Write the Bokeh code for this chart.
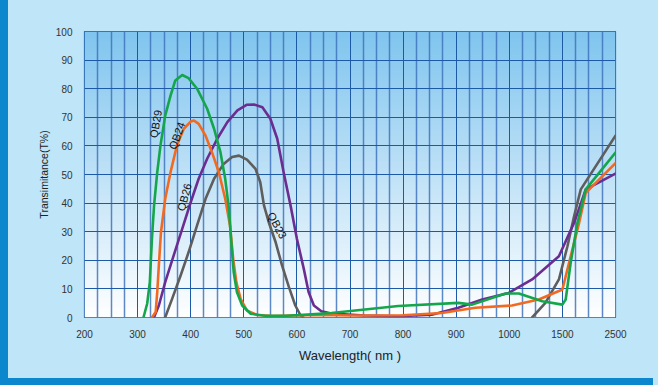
import numpy as np
from bokeh.plotting import figure
from bokeh.models import FixedTicker, GlobalInlineStyleSheet
from bokeh.core.properties import value
from bokeh.embed import file_html
from bokeh.resources import INLINE

# ---- axis ticks (non-linear wavelength axis, equally spaced ticks) ----
tick_wl = [200, 300, 400, 500, 600, 700, 800, 900, 1000, 1500, 2500]
tick_labels = ["200", "300", "400", "500", "600", "700", "800", "900", "1000", "1500", "2500"]
y_ticks = [0, 10, 20, 30, 40, 50, 60, 70, 80, 90, 100]

# ---- series (wavelength nm, transmittance %) ----
qb29_wl = [311, 318, 323, 327, 331, 337, 343, 352, 362, 371, 384, 396, 412, 431, 444, 456, 465,
           472, 476, 481, 487, 497, 513, 540, 580, 620, 665, 791, 904, 930, 993, 1090, 1310,
           1500, 1562, 1656, 1783, 1940, 2500]
qb29_t = [0, 4.8, 12.4, 27.5, 39.2, 50.8, 60.1, 70.6, 77.6, 82.9, 84.8, 83.7, 80, 73, 66, 57.8, 48.5,
          38, 27.5, 15.8, 8.9, 4.2, 1.3, 0.6, 0.6, 1.0, 1.6, 4.0, 5.1, 4.5, 8.4, 8.4, 5.7,
          4.5, 6.3, 19.1, 33.1, 44.8, 57.7]

qb24_wl = [327, 334, 337, 340, 344, 352, 362, 374, 387, 400, 406, 415, 428, 440, 453, 465, 474,
           480, 486, 494, 506, 525, 556, 594, 644, 700, 800, 873, 936, 1025, 1278, 1500, 1656,
           1815, 1940, 2500]
qb24_t = [0, 1.9, 8.9, 18.2, 29.8, 41.5, 50.8, 60.1, 66, 68.5, 68.9, 67.7, 63.6, 57.8, 50.8, 41.5, 32.2,
          20.5, 12.3, 6.5, 2.4, 0.9, 0.5, 0.7, 0.9, 0.7, 0.8, 1.6, 3.4, 4.2, 6.3, 9.8, 21.4,
          33.1, 43.6, 54]

qb26_wl = [331, 340, 352, 368, 384, 400, 415, 431, 450, 469, 488, 506, 519, 535, 550, 563, 575,
           588, 600, 613, 622, 632, 646, 665, 728, 791, 854, 904, 949, 999, 1215, 1467, 1720,
           1940, 2500]
qb26_t = [0.1, 4.2, 12.4, 21.7, 31, 40.3, 48.5, 55.5, 62.5, 68.3, 72.4, 74.4, 74.5, 73.5, 69.5, 62.5, 50.8,
          39.2, 27.5, 17, 8.9, 4.2, 2.2, 1.4, 0.7, 0.45, 1.0, 3.4, 6.3, 8.6, 13.3, 21.4, 33.1,
          44.8, 50.3]

qb23_wl = [352, 365, 381, 396, 412, 428, 444, 462, 478, 491, 506, 522, 531, 538, 547, 560, 572,
           585, 597, 607, 612, np.nan, 1215, 1340, 1467, 1595, 1720, 1846, 2500]
qb23_t = [0.1, 6.5, 14.7, 22.8, 32.2, 41.5, 48.5, 53.7, 56.1, 56.6, 55.2, 52, 47.3, 39.2, 33.3, 26.3, 18.2,
          10.6, 4.2, 0.7, 0, np.nan, 0, 5.1, 13.3, 24.9, 35.4, 44.8, 63.6]

series_names = ["QB23", "QB26", "QB24", "QB29"]
series_colors = ["#5e5e5e", "#6b2d90", "#f26a21", "#14a64b"]

# curve labels (wavelength, transmittance, angle in degrees)
label_names = ["QB29", "QB24", "QB26", "QB23"]
label_wl = [334, 374, 388, 563]
label_t = [67.7, 63.6, 42.1, 32.2]
label_angle = [80, 70, 75, -62]


def to_pos(wl):
    wl = np.asarray(wl, dtype=float)
    out = np.interp(wl, tick_wl, np.arange(len(tick_wl)))
    out[np.isnan(wl)] = np.nan
    return out


n_ticks = len(tick_wl)
p = figure(width=645, height=378, output_backend="svg", toolbar_location=None,
           x_range=(0, n_ticks - 1), y_range=(0, 100),
           min_border_left=76, min_border_right=38, min_border_top=31, min_border_bottom=61,
           border_fill_color="#bee5f8", background_fill_color="#ffffff",
           outline_line_color="#1c5aa8", outline_line_width=1.2)

css = ("html { height:100%; background: linear-gradient(#0a87cd,#0a87cd) 0 0/8px 100% no-repeat,"
       " linear-gradient(#0a87cd,#0a87cd) 0 378px/653px 8px no-repeat, #bee5f8; }"
       " body { margin:0 !important; padding:0 0 0 8px !important; background: transparent; overflow:hidden; }")
p.stylesheets = [GlobalInlineStyleSheet(css=css)]

# gradient background of plot area
N = 200
top = np.array([0x80, 0xc5, 0xef], dtype=float)
bot = np.array([0xff, 0xff, 0xff], dtype=float)
frac = np.linspace(0, 1, N)[:, None]
cols = (bot * (1 - frac) + top * frac).astype(np.uint32)
img = np.empty((N, 1), dtype=np.uint32)
view = img.view(dtype=np.uint8).reshape((N, 1, 4))
view[:, 0, 0] = cols[:, 0]
view[:, 0, 1] = cols[:, 1]
view[:, 0, 2] = cols[:, 2]
view[:, 0, 3] = 255
p.image_rgba(image=[img], x=0, y=0, dw=n_ticks - 1, dh=100, level="image")

# grid
xt = list(range(n_ticks))
minor = [i + q for i in range(n_ticks - 1) for q in (0.25, 0.5, 0.75)]
p.xaxis.ticker = FixedTicker(ticks=xt, minor_ticks=minor)
p.yaxis.ticker = FixedTicker(ticks=y_ticks)
p.xgrid.grid_line_color = "#1c5aa8"
p.xgrid.grid_line_width = 1
p.xgrid.minor_grid_line_color = "#3f73bd"
p.xgrid.minor_grid_line_alpha = 0.85
p.xgrid.minor_grid_line_width = 1.5
p.ygrid.grid_line_color = "#1c5aa8"
p.ygrid.grid_line_width = 1.2

p.xaxis.major_label_overrides = {i: t for i, t in enumerate(tick_labels)}

for ax in (p.xaxis, p.yaxis):
    ax.axis_line_color = None
    ax.major_tick_line_color = None
    ax.minor_tick_line_color = None
    ax.major_label_text_font = "Liberation Sans"
    ax.major_label_text_font_size = "10px"
    ax.major_label_text_color = "#333333"
    ax.axis_label_text_font = "Liberation Sans"
    ax.axis_label_text_font_style = "normal"
    ax.axis_label_text_color = "#222222"

p.xaxis.axis_label = "Wavelength( nm )"
p.xaxis.axis_label_text_font_size = "13px"
p.xaxis.major_label_standoff = 6
p.xaxis.axis_label_standoff = 7
p.yaxis.axis_label = "Transimitance(T%)"
p.yaxis.axis_label_text_font_size = "10.5px"
p.yaxis.major_label_standoff = 6
p.yaxis.axis_label_standoff = 3

data = {"QB23": (qb23_wl, qb23_t), "QB26": (qb26_wl, qb26_t),
        "QB24": (qb24_wl, qb24_t), "QB29": (qb29_wl, qb29_t)}
for name, color in zip(series_names, series_colors):
    wl, t = data[name]
    p.line(to_pos(wl), t, line_color=color, line_width=2.6, line_join="round", line_cap="round")

p.text(x=to_pos(label_wl), y=label_t, text=label_names, angle=np.radians(label_angle),
       text_align="center", text_baseline="middle", text_font=value("Liberation Sans"),
       text_font_size="11px", text_color="#111111")

open("out.html", "w").write(file_html(p, INLINE))
